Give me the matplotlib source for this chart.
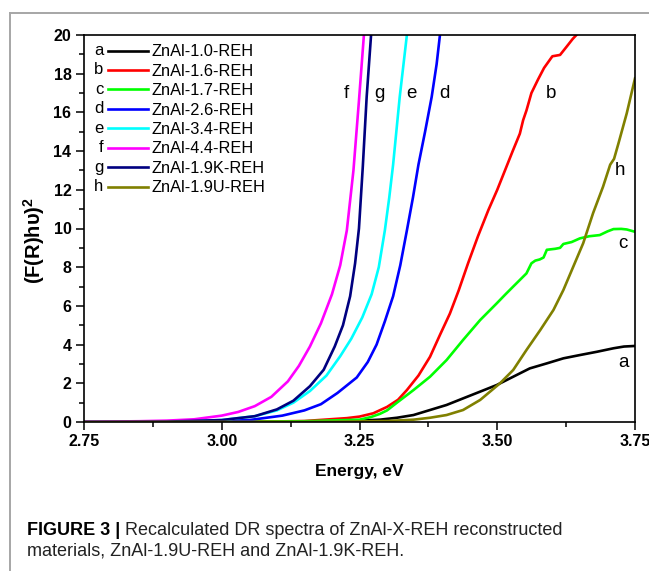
import matplotlib
matplotlib.use("Agg")
import matplotlib.pyplot as plt
from matplotlib.lines import Line2D
from matplotlib.ticker import MultipleLocator, FormatStrFormatter

plt.rcParams['font.family'] = ['Liberation Sans', 'DejaVu Sans']
plt.rcParams['mathtext.fontset'] = 'custom'
plt.rcParams['mathtext.rm'] = 'Liberation Sans'
plt.rcParams['mathtext.bf'] = 'Liberation Sans:bold'

# --- data (energy in eV, (F(R)hv)^2) ---
x_a = [2.75, 3.10, 3.20, 3.25, 3.287, 3.318, 3.348, 3.378, 3.408, 3.438, 3.469, 3.499,
       3.529, 3.559, 3.59, 3.62, 3.65, 3.681, 3.711, 3.73, 3.75]
y_a = [0.0, 0.01, 0.04, 0.07, 0.12, 0.22, 0.36, 0.62, 0.88, 1.22, 1.57, 1.91,
       2.34, 2.77, 3.03, 3.29, 3.46, 3.63, 3.81, 3.9, 3.93]

x_b = [2.75, 3.05, 3.15, 3.227, 3.25, 3.275, 3.30, 3.32, 3.336, 3.357, 3.378, 3.396,
       3.414, 3.43, 3.447, 3.465, 3.484, 3.50, 3.514, 3.528, 3.541, 3.547, 3.553,
       3.562, 3.574, 3.585, 3.60, 3.614, 3.626, 3.637, 3.647, 3.655]
y_b = [0.0, 0.01, 0.05, 0.2, 0.28, 0.45, 0.78, 1.15, 1.65, 2.4, 3.37, 4.5,
       5.6, 6.8, 8.2, 9.6, 10.96, 12.0, 13.0, 14.0, 14.9, 15.6, 16.1,
       17.0, 17.7, 18.3, 18.9, 18.97, 19.4, 19.8, 20.1, 20.5]

x_c = [2.75, 3.05, 3.15, 3.25, 3.27, 3.287, 3.30, 3.318, 3.348, 3.378, 3.408, 3.438,
       3.469, 3.499, 3.515, 3.529, 3.553, 3.562, 3.569, 3.577, 3.584, 3.59, 3.596,
       3.605, 3.614, 3.62, 3.635, 3.65, 3.667, 3.686, 3.70, 3.711, 3.725, 3.735, 3.75]
y_c = [0.0, 0.01, 0.04, 0.12, 0.25, 0.42, 0.6, 1.0, 1.65, 2.34, 3.2, 4.24,
       5.27, 6.13, 6.6, 7.0, 7.68, 8.2, 8.34, 8.4, 8.5, 8.9, 8.92,
       8.95, 9.0, 9.2, 9.3, 9.49, 9.6, 9.66, 9.85, 9.97, 9.98, 9.95, 9.83]

x_d = [2.75, 2.95, 3.05, 3.11, 3.15, 3.18, 3.21, 3.245, 3.265, 3.281, 3.296, 3.311,
       3.324, 3.336, 3.347, 3.357, 3.369, 3.381, 3.39, 3.396, 3.40]
y_d = [0.0, 0.02, 0.1, 0.33, 0.6, 0.92, 1.5, 2.3, 3.1, 4.0, 5.2, 6.5,
       8.1, 9.9, 11.6, 13.3, 15.0, 16.8, 18.5, 20.0, 21.0]

x_e = [2.75, 2.90, 3.00, 3.06, 3.10, 3.13, 3.16, 3.19, 3.215, 3.235, 3.255, 3.272,
       3.285, 3.296, 3.304, 3.311, 3.323, 3.336, 3.340]
y_e = [0.0, 0.02, 0.1, 0.3, 0.6, 1.0, 1.6, 2.4, 3.4, 4.3, 5.4, 6.6,
       8.0, 9.9, 11.6, 13.3, 16.8, 20.0, 21.5]

x_f = [2.75, 2.85, 2.90, 2.95, 3.00, 3.03, 3.06, 3.09, 3.12, 3.14, 3.16, 3.18,
       3.20, 3.215, 3.227, 3.239, 3.249, 3.258, 3.263]
y_f = [0.01, 0.04, 0.07, 0.14, 0.33, 0.52, 0.82, 1.3, 2.1, 2.9, 3.9, 5.1,
       6.6, 8.1, 9.9, 13.0, 16.6, 20.0, 21.5]

x_g = [2.75, 2.90, 3.00, 3.06, 3.10, 3.13, 3.16, 3.185, 3.205, 3.22, 3.233, 3.242,
       3.249, 3.256, 3.263, 3.271, 3.274]
y_g = [0.0, 0.02, 0.1, 0.3, 0.65, 1.1, 1.85, 2.7, 3.9, 5.0, 6.5, 8.2,
       10.0, 13.2, 16.8, 20.0, 21.5]

x_h = [2.75, 3.20, 3.30, 3.348, 3.378, 3.408, 3.438, 3.469, 3.505, 3.529, 3.553, 3.578,
       3.602, 3.62, 3.638, 3.656, 3.674, 3.692, 3.705, 3.712, 3.72, 3.735, 3.75]
y_h = [0.0, 0.01, 0.05, 0.12, 0.22, 0.36, 0.62, 1.14, 2.0, 2.69, 3.72, 4.75,
       5.79, 6.82, 8.03, 9.24, 10.8, 12.16, 13.3, 13.6, 14.4, 15.95, 17.76]

letters = ['a', 'b', 'c', 'd', 'e', 'f', 'g', 'h']
names = ['ZnAl-1.0-REH', 'ZnAl-1.6-REH', 'ZnAl-1.7-REH', 'ZnAl-2.6-REH',
         'ZnAl-3.4-REH', 'ZnAl-4.4-REH', 'ZnAl-1.9K-REH', 'ZnAl-1.9U-REH']
colors = ['#000000', '#ff0000', '#00ff00', '#0000ff',
          '#00ffff', '#ff00ff', '#000080', '#808000']
series_x = [x_a, x_b, x_c, x_d, x_e, x_f, x_g, x_h]
series_y = [y_a, y_b, y_c, y_d, y_e, y_f, y_g, y_h]

# curve tag positions (eV, value)
tag_x = [3.729, 3.597, 3.729, 3.404, 3.344, 3.227, 3.286, 3.723]
tag_y = [3.05, 17.0, 9.2, 17.0, 17.0, 17.0, 17.0, 13.0]

fig = plt.figure(figsize=(6.49, 5.75), dpi=100)
ax = fig.add_axes([84 / 649, 153 / 575, 551 / 649, 387 / 575])

lines = []
for xs, ys, c, n in zip(series_x, series_y, colors, names):
    ln, = ax.plot(xs, ys, color=c, lw=1.9, label=n)
    lines.append(ln)

for t, tx, ty in zip(letters, tag_x, tag_y):
    ax.text(tx, ty, t, fontsize=13.5, ha='center', va='center')

ax.set_xlim(2.75, 3.75)
ax.set_ylim(0, 20)
ax.xaxis.set_major_locator(MultipleLocator(0.25))
ax.xaxis.set_minor_locator(MultipleLocator(0.125))
ax.xaxis.set_major_formatter(FormatStrFormatter('%.2f'))
ax.yaxis.set_major_locator(MultipleLocator(2))
ax.yaxis.set_minor_locator(MultipleLocator(1))
ax.tick_params(which='major', direction='out', length=6, width=1.1, labelsize=11.5, pad=3)
ax.tick_params(which='minor', direction='out', length=3.5, width=1.1)
for lab in ax.get_xticklabels() + ax.get_yticklabels():
    lab.set_fontweight('bold')
for sp in ax.spines.values():
    sp.set_linewidth(1.2)

ax.set_xlabel('Energy, eV', fontsize=12.5, fontweight='bold')
ax.xaxis.set_label_coords(0.5, -0.108)
ax.set_ylabel(r'(F(R)h$\mathbf{\upsilon}$)$^{\mathbf{2}}$', fontsize=14.5,
              fontweight='bold')
ax.yaxis.set_label_coords(-0.068, 0.47)

leg = ax.legend(handles=lines, loc='upper left', bbox_to_anchor=(0.044, 0.976),
                frameon=False, fontsize=11.8, handlelength=2.4, handletextpad=0.25,
                labelspacing=0.27, borderpad=0, borderaxespad=0)

# letters in front of each legend line
fig.canvas.draw()
inv = fig.transFigure.inverted()
for h, t in zip(leg.legend_handles, letters):
    bb = h.get_window_extent()
    px, py = inv.transform((bb.x0 - 5, (bb.y0 + bb.y1) / 2))
    fig.text(px, py, t, fontsize=12, ha='right', va='center')

# page frame lines around the figure panel
fig.add_artist(Line2D([10 / 649, 1], [1 - 13 / 575] * 2, transform=fig.transFigure,
                      color='#a6a6a6', lw=1.4))
fig.add_artist(Line2D([10 / 649] * 2, [1 - 13 / 575, 5 / 575], transform=fig.transFigure,
                      color='#a6a6a6', lw=1.4))

# caption
t1 = fig.text(27 / 649, 1 - 535 / 575, 'FIGURE 3 | ', fontsize=13, fontweight='bold')
fig.canvas.draw()
bb = t1.get_window_extent()
fig.text(bb.x1 / fig.bbox.width, 1 - 535 / 575,
         'Recalculated DR spectra of ZnAl-X-REH reconstructed', fontsize=13,
         color='#222222')
fig.text(27 / 649, 1 - 555 / 575, 'materials, ZnAl-1.9U-REH and ZnAl-1.9K-REH.',
         fontsize=13, color='#222222')

fig.savefig('out.png', dpi=100)
